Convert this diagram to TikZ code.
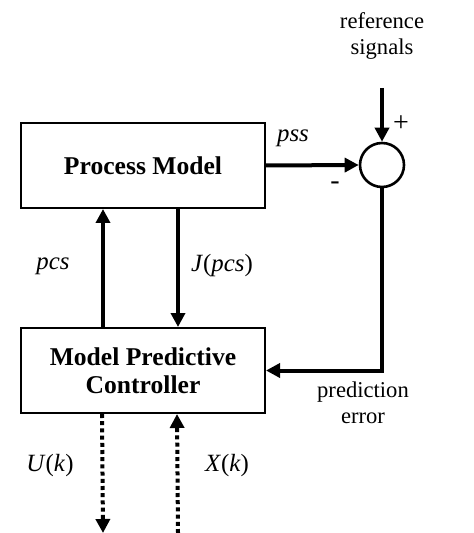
\documentclass[tikz,border=0pt]{standalone}
\usepackage{fontspec}
\setmainfont{Liberation Serif}
\usetikzlibrary{arrows.meta}

\begin{document}
\begin{tikzpicture}[x=0.5pt, y=-0.5pt,
    block/.style={draw, line width=1pt, minimum width=122pt, minimum height=42.5pt,
        font=\fontsize{12.8}{14}\selectfont\bfseries, align=center},
    sumnode/.style={draw, circle, line width=1.3pt, minimum size=22pt, inner sep=0pt},
    flow/.style={line width=2pt, -{Triangle[length=7pt,width=7pt]}},
    dotflow/.style={flow, dash pattern=on 2pt off 1.6pt},
    lbl/.style={font=\fontsize{11.3}{13}\selectfont, align=center},
    sig/.style={font=\fontsize{12.4}{14}\selectfont}]

\useasboundingbox (0,0) rectangle (474,533);

\node[block] (pm) at (143,165.5) {Process Model};
\node[block] (mpc) at (143,370.5) {Model Predictive\\Controller};
\node[sumnode] (sum) at (382,165) {};

\coordinate (ref) at (382,88);
\coordinate (uend) at (103,533);
\coordinate (xstart) at (178,533);

\draw[flow] (pm.east) -- (sum.west);
\draw[flow] (ref) -- (sum.north);
\draw[flow] ([xshift=41.5pt]mpc.north west) -- ([xshift=41.5pt]pm.south west);
\draw[flow] ([xshift=79pt]pm.south west) -- ([xshift=79pt]mpc.north west);
\draw[flow] (sum.south) |- (mpc.east);
\draw[dotflow] ([xshift=41pt]mpc.south west) -- (uend);
\draw[dotflow] (xstart) -- ([xshift=78.5pt]mpc.south west);

\node[lbl] (reflbl) at (382,36) {reference\\signals};
\node[lbl] (errlbl) at (363,403) {prediction\\error};
\node[sig] (psslbl) at (293,138) {\textit{pss}};
\node[sig, font=\fontsize{14}{16}\selectfont] (minus) at (335,186) {-};
\node[sig, font=\fontsize{14}{16}\selectfont] (plus) at (401,124) {+};
\node[sig] (pcslbl) at (53,266) {\textit{pcs}};
\node[sig] (jlbl) at (222,266) {\textit{J}(\textit{pcs})};
\node[sig] (ulbl) at (50,466) {\textit{U}(\textit{k})};
\node[sig] (xlbl) at (227,466) {\textit{X}(\textit{k})};

\end{tikzpicture}
\end{document}
